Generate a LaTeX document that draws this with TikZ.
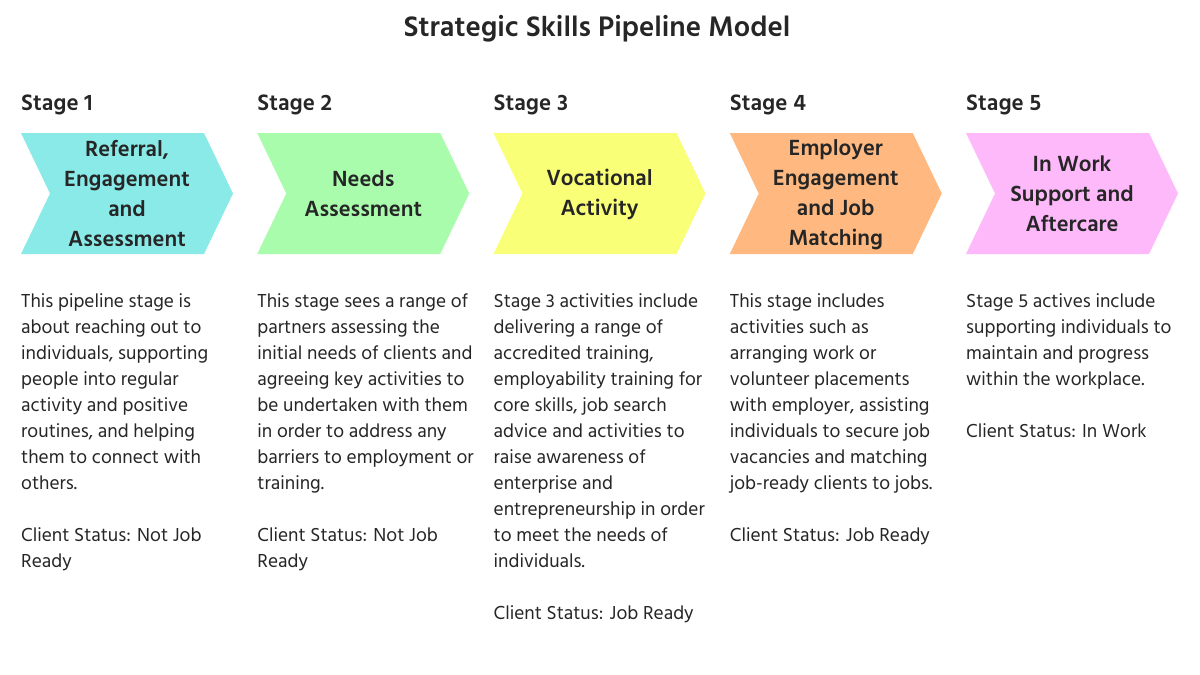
\documentclass[tikz,border=0pt]{standalone}
\usepackage{fontspec}
\setmainfont{Hind Madurai}
\definecolor{txt}{HTML}{262626}
\definecolor{c1}{HTML}{89EAE8}
\definecolor{c2}{HTML}{A8FCAC}
\definecolor{c3}{HTML}{FAFF78}
\definecolor{c4}{HTML}{FFB980}
\definecolor{c5}{HTML}{FDB9F9}
\tikzset{
  chev/.style={fill=#1, draw=none},
  chevlabel/.style={align=center, text=txt, inner sep=0pt, font=\bfseries\fontsize{22.5}{30}\selectfont},
  stagehead/.style={anchor=west, text=txt, inner sep=0pt, font=\bfseries\fontsize{23}{26}\selectfont},
  body/.style={anchor=north west, align=left, text=txt, inner sep=0pt, font=\fontsize{19.3}{26}\selectfont},
  titlestyle/.style={text=txt, inner sep=0pt, font=\bfseries\fontsize{29}{32}\selectfont}
}
\begin{document}
\begin{tikzpicture}[x=1pt,y=-1pt]
\useasboundingbox (0,0) rectangle (1200,675);
\fill[white] (0,0) rectangle (1200,675);
\node[titlestyle] (title) at (597,29) {Strategic Skills Pipeline Model};
% chevrons
\foreach \i/\col in {0/c1,1/c2,2/c3,3/c4,4/c5}{
  \pgfmathsetmacro{\xx}{21+236.25*\i}
  \fill[chev=\col] (\xx,133) -- (\xx+183,133) -- (\xx+212,193.5) -- (\xx+183,254) -- (\xx,254) -- (\xx+29,193.5) -- cycle;
}
\node[stagehead] (h1) at (21,105) {Stage 1};
\node[stagehead] (h2) at (257.25,105) {Stage 2};
\node[stagehead] (h3) at (493.5,105) {Stage 3};
\node[stagehead] (h4) at (729.75,105) {Stage 4};
\node[stagehead] (h5) at (966,105) {Stage 5};
\node[chevlabel] (l1) at (127,193) {Referral,\\Engagement\\and\\Assessment};
\node[chevlabel] (l2) at (363.25,194) {Needs\\Assessment};
\node[chevlabel] (l3) at (599.5,194) {Vocational\\Activity};
\node[chevlabel] (l4) at (835.75,195) {Employer\\Engagement\\and Job\\Matching};
\node[chevlabel] (l5) at (1072,194) {In Work\\Support and\\Aftercare};
% body texts
\node[body] (b1) at (21,293) {This pipeline stage is\\about reaching out to\\individuals, supporting\\people into regular\\activity and positive\\routines, and helping\\them to connect with\\others.\\[26pt]Client Status: Not Job\\Ready};
\node[body] (b2) at (257.25,293) {This stage sees a range of\\partners assessing the\\initial needs of clients and\\agreeing key activities to\\be undertaken with them\\in order to address any\\barriers to employment or\\training.\\[26pt]Client Status: Not Job\\Ready};
\node[body] (b3) at (493.5,293) {Stage 3 activities include\\delivering a range of\\accredited training,\\employability training for\\core skills, job search\\advice and activities to\\raise awareness of\\enterprise and\\entrepreneurship in order\\to meet the needs of\\individuals.\\[26pt]Client Status: Job Ready};
\node[body] (b4) at (729.75,293) {This stage includes\\activities such as\\arranging work or\\volunteer placements\\with employer, assisting\\individuals to secure job\\vacancies and matching\\job-ready clients to jobs.\\[26pt]Client Status: Job Ready};
\node[body] (b5) at (966,293) {Stage 5 actives include\\supporting individuals to\\maintain and progress\\within the workplace.\\[26pt]Client Status: In Work};
\end{tikzpicture}
\end{document}
